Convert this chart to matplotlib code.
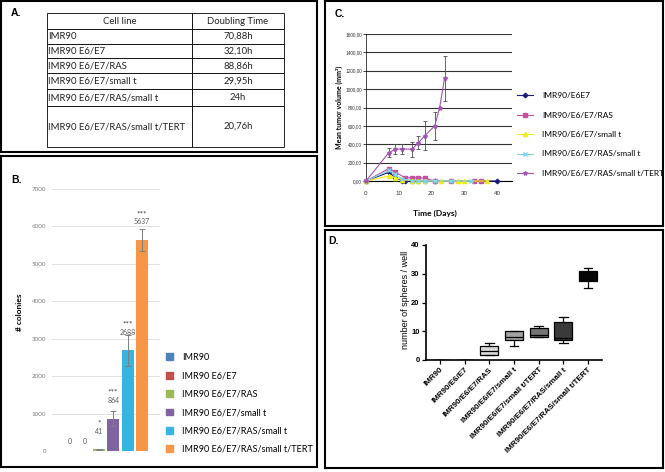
import numpy as np
import matplotlib.pyplot as plt
from matplotlib.patches import Patch

W, H = 665, 472

# A. doubling time table
cell_lines = ["IMR90", "IMR90 E6/E7", "IMR90 E6/E7/RAS", "IMR90 E6/E7/small t",
              "IMR90 E6/E7/RAS/small t", "IMR90 E6/E7/RAS/small t/TERT"]
doubling_time = ["70,88h", "32,10h", "88,86h", "29,95h", "24h", "20,76h"]

# B. soft agar colonies
colonies = [0, 0, 41, 864, 2688, 5637]
colonies_err = [0, 0, 20, 200, 410, 300]
colonies_sig = ["", "", "*", "***", "***", "***"]
colony_colors = ["#4F81BD", "#C0504D", "#9BBB59", "#8064A2", "#35B5DF", "#F79646"]

# C. tumor growth (days, mean volume mm3)
days_e6e7 = [0, 7, 9, 11, 12, 14, 16, 18, 21, 40]
vol_e6e7 = [0, 95, 35, 5, 0, 0, 0, 0, 0, 0]
days_ras = [0, 7, 9, 12, 14, 16, 18, 21, 26, 33, 35]
vol_ras = [0, 135, 95, 35, 35, 35, 30, 0, 0, 0, 0]
err_ras = [0, 15, 15, 10, 10, 10, 10, 0, 0, 0, 0]
days_st = [0, 7, 9, 11, 14, 16, 18, 23, 28, 30, 37]
vol_st = [0, 55, 35, 15, 5, 0, 0, 0, 0, 0, 0]
days_ras_st = [0, 7, 9, 11, 14, 16, 18, 21, 26, 32]
vol_ras_st = [0, 115, 75, 20, 5, 0, 0, 0, 0, 0]
days_tert = [0, 7, 9, 11, 14, 16, 18, 21, 22.5, 24]
vol_tert = [0, 310, 345, 350, 345, 415, 495, 600, 800, 1120]
err_tert = [0, 50, 55, 55, 80, 70, 160, 150, 0, 245]

# D. spheres per well (box stats)
sphere_groups = ["IMR90", "IMR90/E6/E7", "IMR90/E6/E7/RAS", "IMR90/E6/E7/small t",
                 "IMR90/E6/E7/small t/TERT", "IMR90/E6/E7/RAS/small t",
                 "IMR90/E6/E7/RAS/small t/TERT"]
sph_lo = [0, 0, 1.8, 5, 8, 6, 25]
sph_q1 = [0, 0, 1.8, 7, 8, 7, 27.5]
sph_med = [0, 0, 3, 8, 8.8, 7.5, 28]
sph_q3 = [0, 0, 5, 10, 11, 13.3, 31]
sph_hi = [0, 0, 6, 10.2, 12, 15, 32]
sph_colors = ["white", "white", "#d9d9d9", "#a3a3a3", "#737373", "#3a3a3a", "#060606"]

CAL = ["Lato", "DejaVu Sans"]
ARIAL = ["Liberation Sans", "DejaVu Sans"]

fig = plt.figure(figsize=(W / 100, H / 100), dpi=100)


def px_axes(l, t, r, b):
    return fig.add_axes([l / W, 1 - b / H, (r - l) / W, (b - t) / H])


def ftext(x, y, s, **kw):
    fig.text(x / W, 1 - y / H, s, **kw)


# panel frames
for l, t, r, b in [(1, 1, 317, 152), (1, 156, 317, 467), (325, 1, 663, 226), (325, 230, 663, 468)]:
    fa = px_axes(l, t, r, b)
    fa.set_xticks([])
    fa.set_yticks([])
    for sp in fa.spines.values():
        sp.set_linewidth(1.5)

for lab, x, y in [("A.", 16, 13), ("B.", 17, 180), ("C.", 340, 14), ("D.", 333, 241)]:
    ftext(x, y, lab, fontsize=7.5, fontweight="bold", family=ARIAL, ha="center", va="center")

# ---- A
ax_t = px_axes(47, 13, 284, 147)
ax_t.axis("off")
tbl = ax_t.table(cellText=[[c, d] for c, d in zip(cell_lines, doubling_time)],
                 colLabels=["Cell line", "Doubling Time"], colWidths=[145, 92],
                 cellLoc="center", bbox=[0, 0, 1, 1])
tbl.auto_set_font_size(False)
row_h = [16, 14.5, 14.5, 15, 15.5, 17, 40.5]
for (r, c), cell in tbl.get_celld().items():
    cell.set_height(row_h[r])
    cell.set_linewidth(0.6)
    cell.get_text().set_fontsize(6.8)
    cell.get_text().set_fontfamily(CAL)
    cell.get_text().set_color("#222222")
    if r > 0 and c == 0:
        cell.get_text().set_ha("left")
        cell.PAD = 0.005

# ---- B
ax_b = px_axes(52, 189, 160, 451)
xb = np.arange(1, len(colonies) + 1)
eb = np.array(colonies_err, dtype=float)
eb[eb == 0] = np.nan
ax_b.bar(xb, colonies, width=0.83, color=colony_colors, zorder=3,
         yerr=eb, error_kw=dict(ecolor="#7f7f7f", elinewidth=0.7, capsize=2, capthick=0.7))
ax_b.set_xlim(-0.25, 7.25)
ax_b.set_ylim(0, 7000)
ax_b.set_yticks(range(0, 7001, 1000))
ax_b.set_xticks([])
ax_b.tick_params(axis="y", length=0, pad=4, labelsize=4.5, labelcolor="#7f7f7f")
for lab in ax_b.get_yticklabels():
    lab.set_family(CAL)
ax_b.grid(axis="y", color="#d9d9d9", lw=0.6, zorder=0)
for sp in ax_b.spines.values():
    sp.set_visible(False)
for x, v, s in zip(xb, colonies, colonies_sig):
    off = 13 if v > 0 else 6.5
    ax_b.annotate(str(v), (x, v), xytext=(0, off), textcoords="offset points",
                  ha="center", va="center", fontsize=5, color="#595959", family=CAL, zorder=5)
    if s:
        ax_b.annotate(s, (x, v), xytext=(0, off + 6), textcoords="offset points",
                      ha="center", va="center", fontsize=6, color="#404040", family=CAL)
ftext(20, 312, "# colonies", rotation=90, fontsize=6, fontweight="bold", family=CAL,
      ha="center", va="center")
handles_b = [Patch(color=c) for c in colony_colors]
fig.legend(handles_b, cell_lines, loc="upper left", bbox_to_anchor=(166 / W, 1 - 353 / H),
           frameon=False, borderpad=0, borderaxespad=0, prop={"family": CAL, "size": 6.5},
           handlelength=0.8, handleheight=0.8, handletextpad=1.0, labelspacing=1.04)

# ---- C
ax_c = px_axes(366, 34, 512, 181)
series_c = [
    (days_e6e7, vol_e6e7, None, "IMR90/E6E7", "#1c1c7c", "D", 2.3),
    (days_ras, vol_ras, err_ras, "IMR90/E6/E7/RAS", "#c4529e", "s", 2.3),
    (days_st, vol_st, None, "IMR90/E6/E7/small t", "#eeee10", "^", 3),
    (days_ras_st, vol_ras_st, None, "IMR90/E6/E7/RAS/small t", "#80d4ec", "x", 3),
    (days_tert, vol_tert, err_tert, "IMR90/E6/E7/RAS/small t/TERT", "#a055b0", "*", 3),
]
for d, v, e, lab, col, mk, ms in series_c:
    ax_c.plot(d, v, color=col, marker=mk, ms=ms, lw=0.8, label=lab, zorder=4, clip_on=False)
    if e is not None:
        ee = np.array(e, dtype=float)
        ee[ee == 0] = np.nan
        ax_c.errorbar(d, v, yerr=ee, fmt="none", ecolor="#4d4d4d", elinewidth=0.6,
                      capsize=1.5, capthick=0.6, zorder=3)
ax_c.set_xlim(0, 44.6)
ax_c.set_ylim(0, 1600)
ax_c.set_yticks(range(0, 1601, 200))
ax_c.set_yticklabels([f"{v},00" for v in range(0, 1601, 200)])
ax_c.set_xticks([0, 10, 20, 30, 40])
ax_c.tick_params(axis="y", length=2, width=0.5, pad=1, labelsize=3.4, labelcolor="#333333")
ax_c.tick_params(axis="x", length=0, pad=7, labelsize=4.5, labelcolor="#333333")
for lab in ax_c.get_yticklabels() + ax_c.get_xticklabels():
    lab.set_family(["Liberation Sans Narrow", "Liberation Sans", "DejaVu Sans"])
ax_c.grid(axis="y", color="#333333", lw=0.8, zorder=0)
ax_c.spines["top"].set_visible(False)
ax_c.spines["right"].set_visible(False)
ax_c.spines["left"].set_linewidth(0.5)
ax_c.spines["bottom"].set_linewidth(0.8)
ftext(435, 213, "Time (Days)", fontsize=6, fontweight="bold", family=CAL, ha="center", va="center")
ftext(339, 107, "Mean tumor volume (mm\u00b3)", rotation=90, fontsize=5, fontweight="bold",
      family=CAL, ha="center", va="center")
ax_c.legend(loc="upper left", bbox_to_anchor=(517 / W, 1 - 92 / H), bbox_transform=fig.transFigure,
            frameon=False, borderpad=0, borderaxespad=0, prop={"family": CAL, "size": 6},
            handlelength=1.9, handletextpad=1.1, labelspacing=1.5, numpoints=1)

# ---- D
ax_d = px_axes(426, 245, 602, 360)
stats = [dict(med=m, q1=a, q3=b, whislo=lo, whishi=hi, fliers=[])
         for m, a, b, lo, hi in zip(sph_med, sph_q1, sph_q3, sph_lo, sph_hi)]
pos = np.arange(len(stats))
bp = ax_d.bxp(stats, positions=pos, widths=0.72, capwidths=0.36, patch_artist=True,
              boxprops=dict(lw=0.9, edgecolor="black"),
              whiskerprops=dict(lw=0.9), capprops=dict(lw=0.9),
              medianprops=dict(color="black", lw=0.9))
for patch, col in zip(bp["boxes"], sph_colors):
    patch.set_facecolor(col)
ax_d.set_xlim(-0.57, 6.57)
ax_d.set_ylim(0, 40)
ax_d.set_yticks([0, 10, 20, 30, 40])
ax_d.set_xticks(pos)
ax_d.set_xticklabels(sphere_groups, rotation=45, ha="right", rotation_mode="anchor")
ax_d.tick_params(axis="both", length=3, width=0.9, pad=1.5)
ax_d.tick_params(axis="y", labelsize=5.5)
ax_d.tick_params(axis="x", labelsize=5.8)
for lab in ax_d.get_yticklabels() + ax_d.get_xticklabels():
    lab.set_family(ARIAL)
    lab.set_fontweight("bold")
ax_d.spines["top"].set_visible(False)
ax_d.spines["right"].set_visible(False)
ax_d.spines["left"].set_linewidth(1.2)
ax_d.spines["bottom"].set_linewidth(1.2)
ftext(405, 300, "number of spheres / well", rotation=90, fontsize=6.5, family=ARIAL,
      ha="center", va="center")

fig.savefig("out.png", dpi=100)
